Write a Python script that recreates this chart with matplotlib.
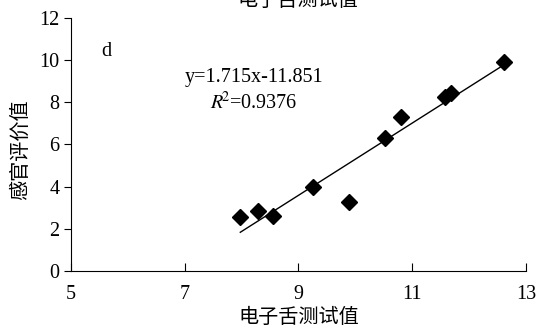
import numpy as np
import matplotlib.pyplot as plt

# ---- data ----
tongue = [7.98, 8.29, 8.56, 9.25, 9.89, 10.52, 10.80, 11.58, 11.69, 12.62]
sensory = [2.55, 2.86, 2.61, 3.97, 3.29, 6.30, 7.29, 8.27, 8.43, 9.91]
slope, intercept = 1.715, -11.851
r2 = 0.9376
x_ticks = [5, 7, 9, 11, 13]
y_ticks = [0, 2, 4, 6, 8, 10, 12]

cn = ['Noto Sans CJK SC', 'DejaVu Sans']
plt.rcParams['font.family'] = ['Liberation Serif', 'Noto Sans CJK SC']
plt.rcParams['mathtext.fontset'] = 'stix'

fig = plt.figure(figsize=(5.4, 3.28), dpi=100)
ax = fig.add_axes([0.131, 0.174, 0.843, 0.771])

ax.plot(tongue, sensory, linestyle='none', marker='D', ms=8.5, color='black')
xl = np.array([min(tongue), max(tongue)])
ax.plot(xl, slope * xl + intercept, color='black', lw=1.0)

ax.set_xlim(5, 13)
ax.set_ylim(0, 12)
ax.set_xticks(x_ticks)
ax.set_yticks(y_ticks)
ax.spines['top'].set_visible(False)
ax.spines['right'].set_visible(False)
ax.tick_params(axis='x', direction='in', length=6, labelsize=14.5, pad=10)
ax.tick_params(axis='y', direction='out', length=5, labelsize=14.5, pad=3)

ax.text(5.63, 10.4, 'd', fontsize=14.5, ha='center', va='center')
ax.text(8.22, 9.2, 'y=%.3fx%.3f' % (slope, intercept), fontsize=14.5, ha='center', va='center')
ax.text(8.22, 7.97, r'$R^{\!\!2}$=%.4f' % r2, fontsize=14.5, ha='center', va='center')

ax.set_xlabel('电子舌测试值', family=cn, fontsize=14.5, labelpad=2)
ax.set_ylabel('感官评价值', family=cn, fontsize=14.5)
ax.yaxis.set_label_coords(-0.087, 0.478)
fig.text(0.552, 1.0, '电子舌测试值', family=cn, fontsize=14.5, ha='center', va='center')

fig.savefig('out.png', dpi=100)
